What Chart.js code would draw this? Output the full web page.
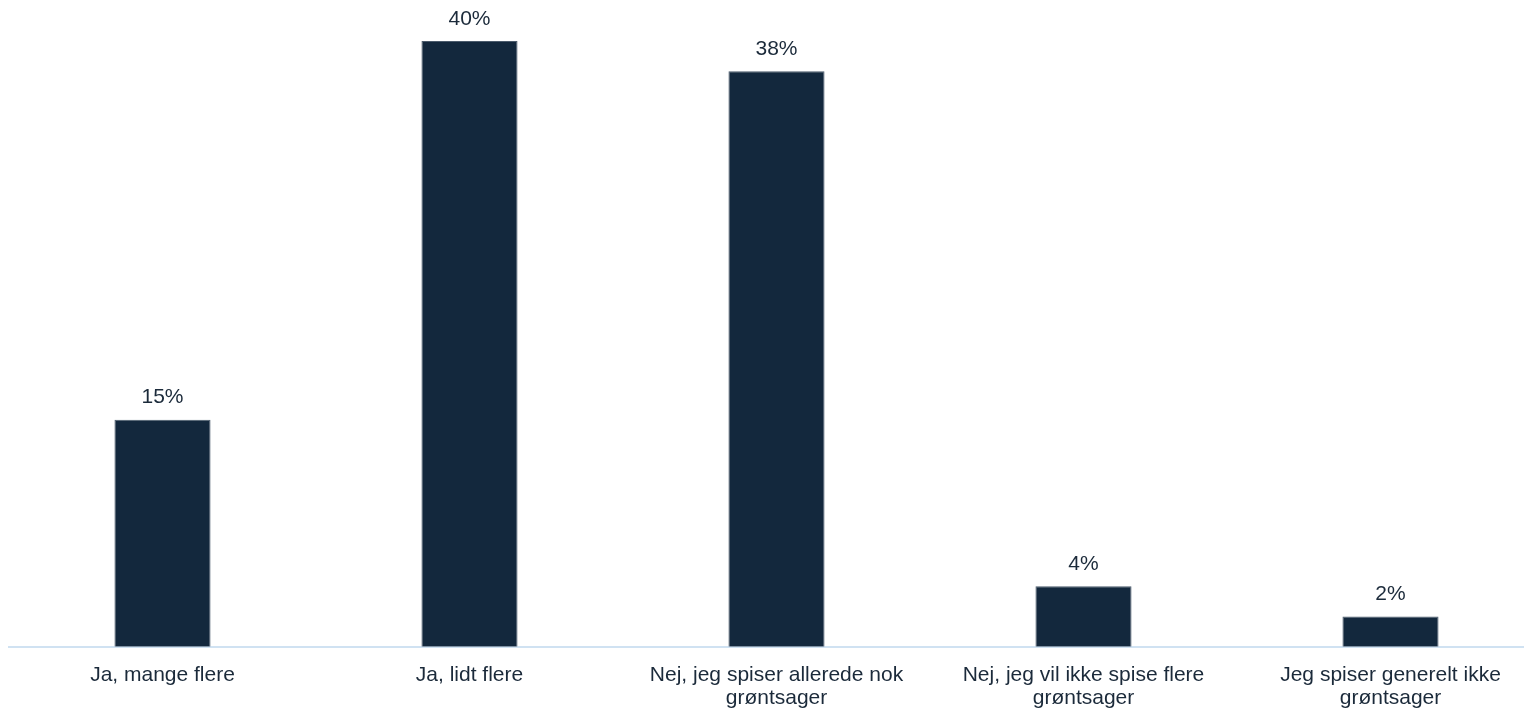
<!DOCTYPE html>
<html>
<head>
<meta charset="utf-8">
<script src="https://cdn.jsdelivr.net/npm/chart.js@4"></script>
<style>
  html, body { margin: 0; padding: 0; background: #fff; overflow: hidden; }
  .wrap { width: 1544px; height: 711px; position: relative; }
</style>
</head>
<body>
<div class="wrap"><canvas id="bars"></canvas></div>
<script>
var categories = [
	"Ja, mange flere",
	"Ja, lidt flere",
	["Nej, jeg spiser allerede nok", "grøntsager"],
	["Nej, jeg vil ikke spise flere", "grøntsager"],
	["Jeg spiser generelt ikke", "grøntsager"]
];
var values = [15, 40, 38, 4, 2];
var yMax = 40;

var navy = '#13283d';
var textColor = '#1b2a3a';

// labels above each bar
var valueLabels = {
	id: 'valueLabels',
	afterDatasetsDraw: function(chart) {
		var ctx = chart.ctx;
		var meta = chart.getDatasetMeta(0);
		ctx.save();
		ctx.font = '21px "Liberation Sans", Arial, sans-serif';
		ctx.fillStyle = textColor;
		ctx.textAlign = 'center';
		ctx.textBaseline = 'middle';
		meta.data.forEach(function(bar, i) {
			ctx.fillText(values[i] + '%', bar.x, bar.y - 22);
		});
		ctx.restore();
	}
};

var ctx = document.getElementById('bars').getContext('2d');
var chart = new Chart(ctx, {
	type: 'bar',
	data: {
		labels: categories,
		datasets: [{
			data: values,
			backgroundColor: navy,
			borderColor: '#4b5b6c',
			borderWidth: 1,
			barPercentage: 0.313,
			categoryPercentage: 1
		}]
	},
	options: {
		responsive: true,
		maintainAspectRatio: false,
		animation: false,
		layout: { padding: { top: 41, left: 9, right: 0, bottom: -16 } },
		plugins: {
			legend: { display: false },
			tooltip: { enabled: false }
		},
		scales: {
			x: {
				grid: { display: false, drawTicks: false },
				border: { display: true, color: '#d0e2f2', width: 2 },
				ticks: {
					color: textColor,
					padding: 17,
					maxRotation: 0,
					autoSkip: false,
					font: { family: '"Liberation Sans", Arial, sans-serif', size: 21, lineHeight: 1.1 }
				}
			},
			y: {
				display: false,
				min: 0,
				max: yMax
			}
		}
	},
	plugins: [valueLabels]
});
</script>
</body>
</html>
